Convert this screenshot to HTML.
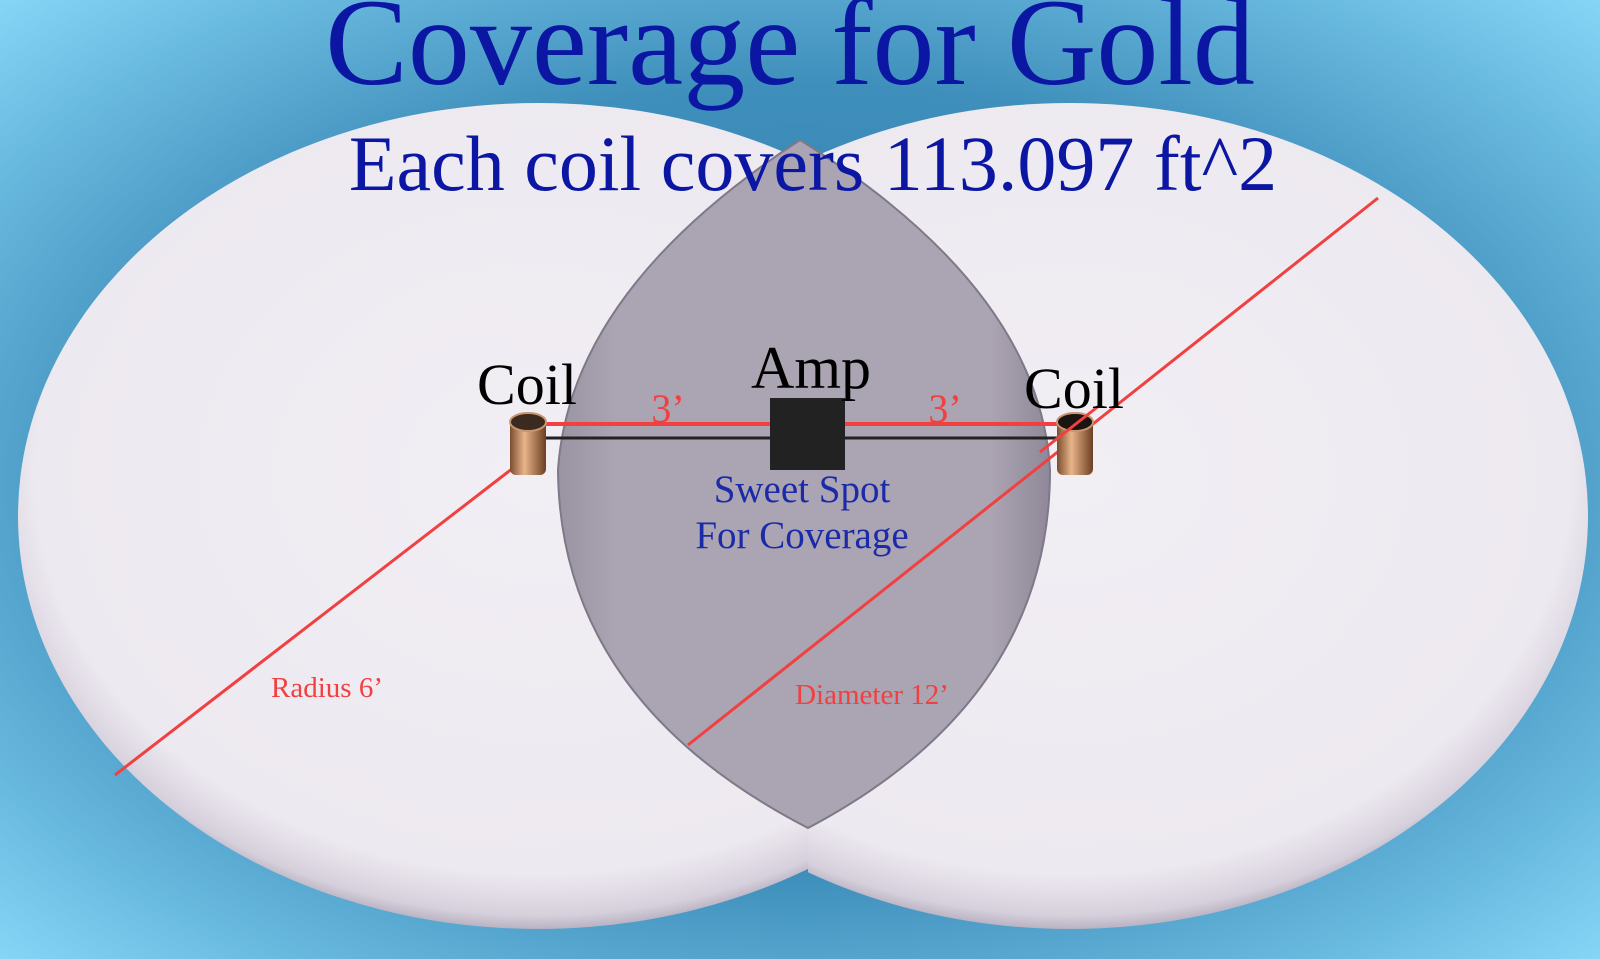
<!DOCTYPE html>
<html><head><style>html,body{margin:0;padding:0;width:1600px;height:959px;overflow:hidden}</style></head><body>
<svg width="1600" height="959" viewBox="0 0 1600 959" xmlns="http://www.w3.org/2000/svg">
<defs>
<radialGradient id="bg" cx="50%" cy="50%" r="75%">
<stop offset="0" stop-color="#2f7aa6"/><stop offset="0.55" stop-color="#3f8fbc"/><stop offset="1" stop-color="#8fe0ff"/>
</radialGradient>
<radialGradient id="disk" cx="50%" cy="45%" r="55%">
<stop offset="0" stop-color="#f1eef4"/><stop offset="0.88" stop-color="#ede9f0"/><stop offset="0.97" stop-color="#d6d0dc"/><stop offset="1" stop-color="#b9b2c2"/>
</radialGradient>
<linearGradient id="lens" x1="0" y1="0" x2="1" y2="0">
<stop offset="0" stop-color="#9a94a2"/><stop offset="0.12" stop-color="#aba4b2"/><stop offset="0.88" stop-color="#aba4b2"/><stop offset="1" stop-color="#8f8898"/>
</linearGradient>
<linearGradient id="cu" x1="0" y1="0" x2="1" y2="0">
<stop offset="0" stop-color="#7a4e2e"/><stop offset="0.4" stop-color="#e8b48a"/><stop offset="1" stop-color="#6b3f22"/>
</linearGradient>
<clipPath id="rh"><rect x="808" y="0" width="800" height="959"/></clipPath>
</defs>
<rect width="1600" height="959" fill="url(#bg)"/>
<ellipse cx="538" cy="516" rx="520" ry="413" fill="url(#disk)"/>
<ellipse cx="1070" cy="516" rx="518" ry="413" fill="url(#disk)" clip-path="url(#rh)"/>
<path d="M800 140 Q1040 290 1050 470 Q1050 700 808 828 Q560 700 558 470 Q570 290 800 140 Z" fill="url(#lens)" stroke="#7f7888" stroke-width="2"/>
<text x="790" y="84" text-anchor="middle" font-family="Liberation Serif, serif" font-size="124" fill="#0b16a3">Coverage for Gold</text>
<text x="813" y="190" text-anchor="middle" font-family="Liberation Serif, serif" font-size="78" fill="#0b16a3">Each coil covers 113.097 ft^2</text>
<line x1="115" y1="775" x2="530" y2="455" stroke="#f04040" stroke-width="3"/>
<line x1="688" y1="745" x2="1378" y2="198" stroke="#f04040" stroke-width="3"/>
<line x1="540" y1="424" x2="1062" y2="424" stroke="#f04040" stroke-width="4"/>
<line x1="540" y1="438" x2="1062" y2="438" stroke="#222" stroke-width="3"/>
<rect x="770" y="398" width="75" height="72" fill="#222"/>
<rect x="510" y="417" width="36" height="58" rx="6" fill="url(#cu)"/>
<ellipse cx="528" cy="422" rx="18" ry="9" fill="#3b2a20" stroke="#c99670" stroke-width="2"/>
<rect x="1057" y="417" width="36" height="58" rx="6" fill="url(#cu)"/>
<ellipse cx="1075" cy="422" rx="18" ry="9" fill="#1b1410" stroke="#c99670" stroke-width="2"/>
<line x1="1040" y1="452" x2="1100" y2="405" stroke="#f04040" stroke-width="3"/>
<g font-family="Liberation Serif, serif">
<text x="527" y="404" text-anchor="middle" font-size="58" fill="#000">Coil</text>
<text x="1074" y="408" text-anchor="middle" font-size="58" fill="#000">Coil</text>
<text x="811" y="388" text-anchor="middle" font-size="60" fill="#000">Amp</text>
<text x="668" y="422" text-anchor="middle" font-size="40" fill="#f04040">3’</text>
<text x="945" y="422" text-anchor="middle" font-size="40" fill="#f04040">3’</text>
<text x="802" y="502" text-anchor="middle" font-size="39" fill="#1b2aa8">Sweet Spot</text>
<text x="802" y="548" text-anchor="middle" font-size="39" fill="#1b2aa8">For Coverage</text>
<text x="327" y="697" text-anchor="middle" font-size="29" fill="#f04040">Radius 6’</text>
<text x="872" y="704" text-anchor="middle" font-size="29" fill="#f04040">Diameter 12’</text>
</g>
</svg>
</body></html>
